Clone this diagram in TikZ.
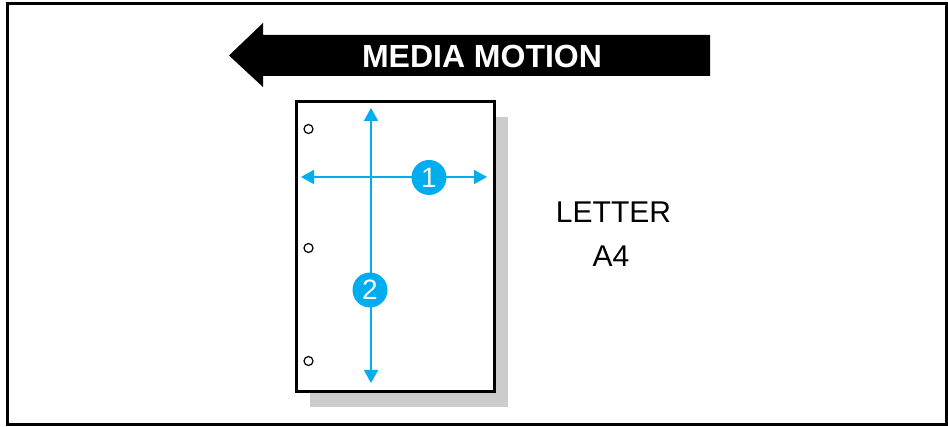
\documentclass[tikz,border=0pt]{standalone}
\usepackage{fontspec}
\setmainfont{Liberation Sans}
\usetikzlibrary{arrows.meta}
\definecolor{cy}{HTML}{00AEEF}
\definecolor{shadowgray}{gray}{0.8}
\tikzset{
  dim/.style={draw=cy, line width=1.7pt, {Triangle[length=13pt,width=14pt]}-{Triangle[length=13pt,width=14pt]}},
  badge/.style={circle, fill=cy, minimum size=35pt, inner sep=0pt, text=white, font=\fontsize{28}{28}\selectfont},
  hole/.style={circle, draw=black, line width=1.2pt, minimum size=9pt, inner sep=0pt},
  lbl/.style={inner sep=0pt, anchor=base, font=\fontsize{30}{30}\selectfont}
}
\begin{document}
\begin{tikzpicture}[x=1pt,y=-1pt]
\useasboundingbox (0,0) rectangle (948,427);
\fill[white] (0,0) rectangle (948,427);
% frame
\draw[line width=3pt] (7,4) rectangle (946,425);
% media motion arrow
\fill[black] (710,35) -- (263,35) -- (263,23) -- (229,55.5) -- (263,87) -- (263,76) -- (710,76) -- cycle;
\node[inner sep=0pt, anchor=base, text=white, font=\bfseries\fontsize{32}{32}\selectfont] (mm) at (482,68) {MEDIA MOTION};
% shadow and paper
\fill[shadowgray] (310,117) rectangle (508,407);
\draw[line width=3pt, fill=white] (296,102) rectangle (494,392);
% holes
\node[hole] (h1) at (308.5,129) {};
\node[hole] (h2) at (308.5,248) {};
\node[hole] (h3) at (308.5,361) {};
% dimension arrows
\coordinate (vt) at (371,108);
\coordinate (vb) at (371,383);
\coordinate (hl) at (301,177);
\coordinate (hr) at (487,177);
\draw[dim] (vt) -- (vb);
\draw[dim] (hl) -- (hr);
\node[badge] (b1) at (429,177.5) {1};
\node[badge] (b2) at (370,290) {2};
% labels
\node[lbl] (letter) at (613.5,223) {LETTER};
\node[lbl] (a4) at (611,267) {A4};
\end{tikzpicture}
\end{document}
